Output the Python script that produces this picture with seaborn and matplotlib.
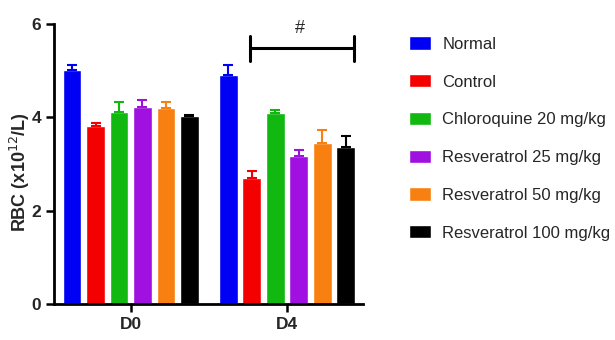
import numpy as np
import pandas as pd
import matplotlib.pyplot as plt
import seaborn as sns

# -----------------------------
# Data
# -----------------------------
days = ["D0", "D4"]
groups = ["Normal", "Control", "Chloroquine 20 mg/kg", "Resveratrol 25 mg/kg",
          "Resveratrol 50 mg/kg", "Resveratrol 100 mg/kg"]
rbc_d0 = [5.01, 3.81, 4.11, 4.23, 4.20, 4.04]
rbc_d4 = [4.90, 2.70, 4.10, 3.17, 3.45, 3.36]
err_d0 = [0.11, 0.07, 0.22, 0.14, 0.13, 0.02]
err_d4 = [0.22, 0.16, 0.06, 0.14, 0.28, 0.25]
colors = ["#0000f5", "#f50000", "#10b810", "#a010e0", "#f88010", "#000000"]

df = pd.DataFrame({
    "day": np.repeat(days, len(groups)),
    "group": groups * len(days),
    "rbc": rbc_d0 + rbc_d4,
    "err": err_d0 + err_d4,
})

# -----------------------------
# Style
# -----------------------------
sns.set_style("ticks")
plt.rcParams["font.family"] = ["Liberation Sans", "DejaVu Sans"]

fig = plt.figure(figsize=(6.15, 3.4), dpi=100)
ax = fig.add_axes([0.088, 0.106, 0.502, 0.823])

sns.barplot(data=df, x="day", y="rbc", hue="group", hue_order=groups,
            palette=colors, width=0.9, gap=0.2, errorbar=None,
            saturation=1, ax=ax, legend=True)

# upward-only error bars in the bar colour
for container, col, grp in zip(ax.containers, colors, groups):
    sub = df[df["group"] == grp]
    xs = [b.get_x() + b.get_width() / 2 for b in container]
    ax.errorbar(xs, sub["rbc"].values,
                yerr=[np.zeros(len(xs)), sub["err"].values],
                fmt="none", ecolor=col, elinewidth=1.5, capsize=3.5, capthick=1.5)

# significance bracket over D4
y_br = 5.48
ax.plot([0.765, 1.43], [y_br, y_br], color="black", lw=2.2)
ax.plot([0.765, 0.765], [y_br - 0.26, y_br + 0.26], color="black", lw=2.2)
ax.plot([1.43, 1.43], [y_br - 0.26, y_br + 0.26], color="black", lw=2.2)
ax.text(1.085, 5.73, "#", ha="center", va="bottom", fontsize=13)

ax.set_xlim(-0.49, 1.485)
ax.set_ylim(0, 6)
ax.set_yticks([0, 2, 4, 6])
ax.set_xlabel("")
ax.set_ylabel("RBC (x10$^{12}$/L)", fontsize=13, fontweight="bold")
ax.yaxis.set_label_coords(-0.072, 0.47)
for lab in ax.get_xticklabels() + ax.get_yticklabels():
    lab.set_fontweight("bold")
ax.tick_params(axis="both", labelsize=12.5, width=1.8, length=6, color="black")
for side in ["left", "bottom"]:
    ax.spines[side].set_linewidth(2)
    ax.spines[side].set_color("black")
sns.despine(ax=ax)

handles, labels = ax.get_legend_handles_labels()
ax.legend(handles, labels, loc="upper left", bbox_to_anchor=(0.665, 0.893),
          bbox_transform=fig.transFigure, frameon=False, fontsize=12,
          handlelength=1.3, handleheight=0.85, handletextpad=0.7,
          labelspacing=1.34, borderpad=0, borderaxespad=0)

fig.savefig("out.png", dpi=100)
plt.close(fig)
